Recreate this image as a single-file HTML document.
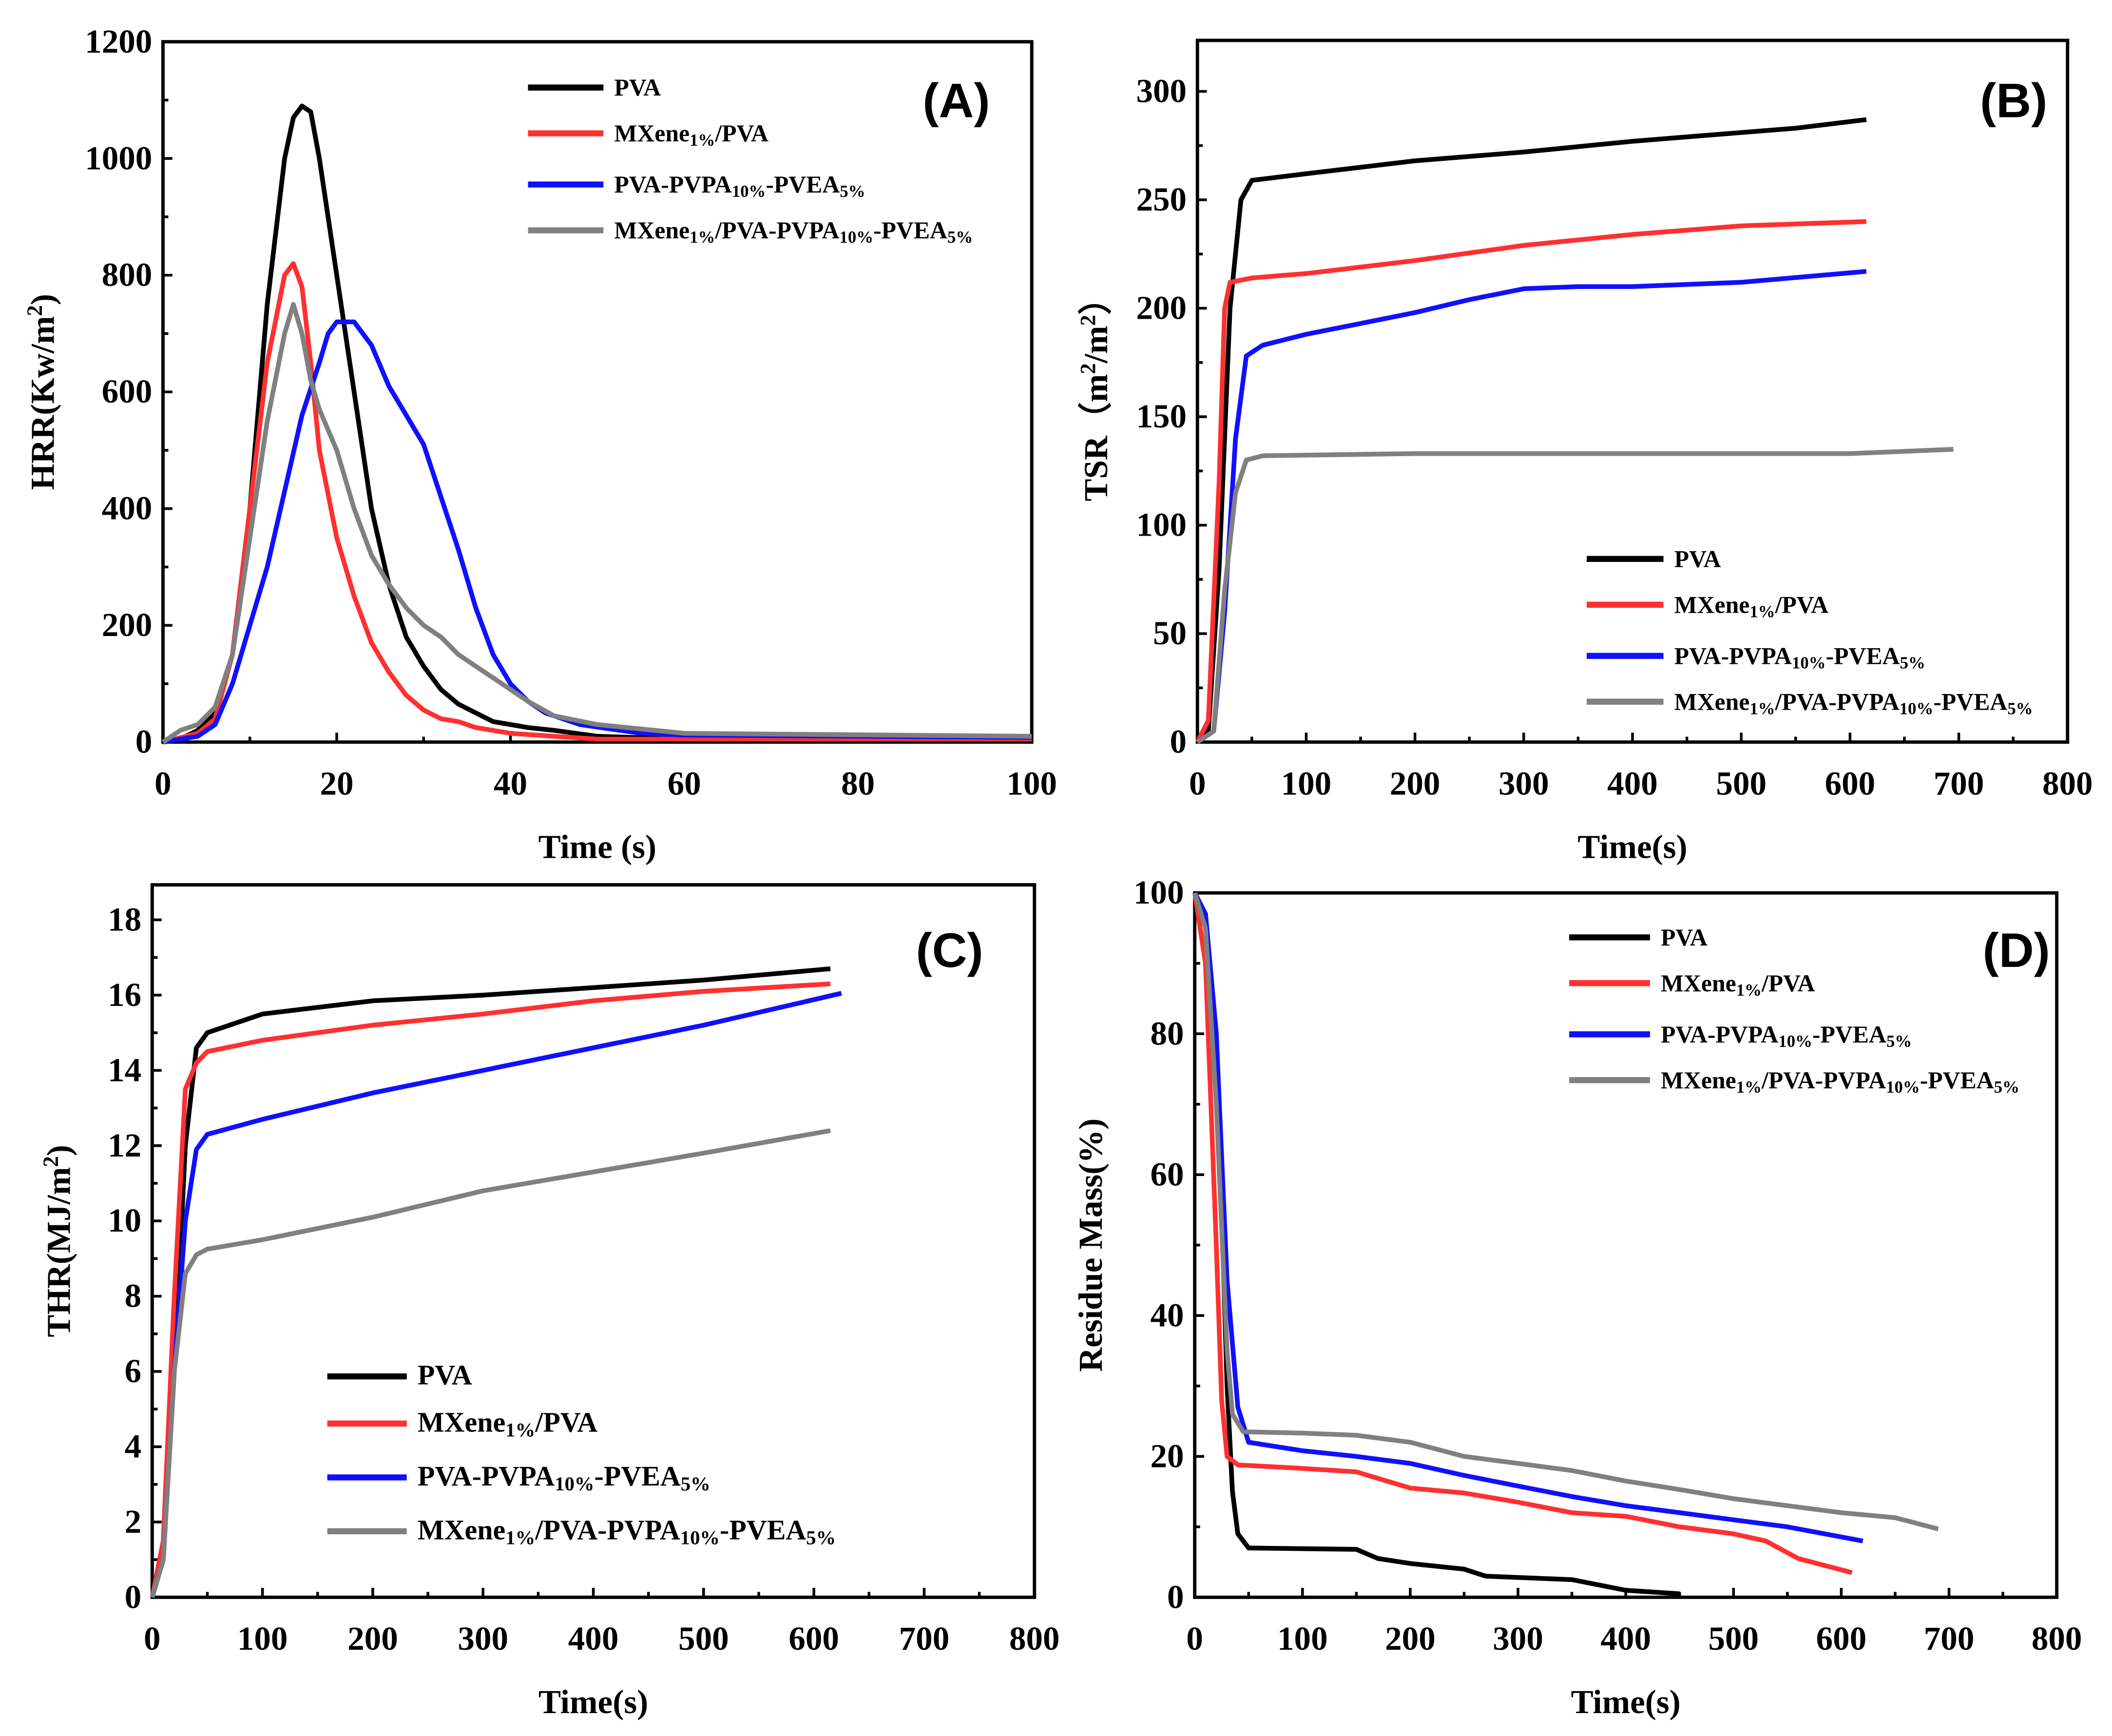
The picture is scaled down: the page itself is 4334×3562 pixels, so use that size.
<!DOCTYPE html>
<html><head><meta charset="utf-8"><style>
html,body{margin:0;padding:0;background:#fff}
svg{display:block}
text{font-family:"Liberation Serif",serif;font-weight:bold;fill:#000}
.pl{font-family:"Liberation Sans",sans-serif;font-size:36px}
</style></head><body>
<svg id="fig" width="4334" height="3562" viewBox="0 0 1568 1289" preserveAspectRatio="none" xmlns="http://www.w3.org/2000/svg"></svg>
<script>
const seriesNames=["PVA","MXene1%/PVA","PVA-PVPA10%-PVEA5%","MXene1%/PVA-PVPA10%-PVEA5%"];
const colors=["#000","#ff3030","#1010ff","#808080"];
// Panel A HRR
const hrrT=[[0,2,4,6,8,10,12,14,15,16,17,18,20,22,24,26,28,30,32,34,36,38,40,42,45,50,60,100],
[0,4,6,8,10,12,14,15,16,17,18,20,22,24,26,28,30,32,34,36,40,45,50,100],
[0,4,6,8,10,12,14,16,18,19,20,22,24,26,28,30,32,34,36,38,40,42,44,48,55,60,100],
[0,2,4,6,8,10,12,14,15,16,17,18,20,22,24,26,28,30,32,34,36,38,40,42,45,50,60,100]];
const hrrV=[[0,5,20,50,150,400,750,1000,1070,1090,1080,1000,800,600,400,270,180,130,90,65,50,35,30,25,20,10,5,5],
[0,15,40,150,400,650,800,820,780,650,500,350,250,170,120,80,55,40,35,25,15,10,5,5],
[0,10,30,100,200,300,430,560,650,700,720,720,680,610,560,510,420,330,230,150,100,70,50,30,15,12,8],
[0,20,30,60,150,350,550,700,750,700,620,570,500,400,320,270,230,200,180,150,130,110,90,70,45,30,15,10]];
// Panel B TSR
const tsrT=[[0,10,20,30,40,50,100,200,300,400,500,550,615],[0,10,20,25,30,50,100,200,300,400,500,615],
[0,15,25,35,45,60,100,150,200,250,300,350,400,500,615],[0,15,25,35,45,60,200,400,600,695]];
const tsrV=[[0,5,80,200,250,259,262,268,272,277,281,283,287],[0,10,120,200,212,214,216,222,229,234,238,240],
[0,5,60,140,178,183,188,193,198,204,209,210,210,212,217],[0,5,70,115,130,132,133,133,133,135]];
// Panel C THR
const thrT=[[0,10,20,30,40,50,100,200,300,400,500,615],[0,10,20,30,40,50,100,200,300,400,500,615],
[0,10,20,30,40,50,100,200,300,400,500,625],[0,10,20,30,40,50,100,200,300,400,500,615]];
const thrV=[[0,1,6,12,14.6,15,15.5,15.85,16,16.2,16.4,16.7],[0,1.5,8,13.5,14.2,14.5,14.8,15.2,15.5,15.85,16.1,16.3],
[0,1,6,10,11.9,12.3,12.7,13.4,14,14.6,15.2,16.05],[0,1,6,8.6,9.1,9.25,9.5,10.1,10.8,11.3,11.8,12.4]];
// Panel D residue
const resT=[[0,10,20,25,30,35,40,50,100,150,170,200,250,270,350,400,450],
[0,10,20,25,30,40,100,150,200,250,300,350,400,450,500,530,560,610],
[0,10,20,30,40,50,100,150,200,250,300,350,400,450,500,550,620],
[0,10,20,30,35,45,100,150,200,250,300,350,400,450,500,550,600,650,690]];
const resV=[[100,97,80,55,30,15,9,7,6.9,6.8,5.5,4.8,4,3,2.5,1,0.5],
[100,90,50,28,20,18.8,18.3,17.8,15.5,14.8,13.5,12,11.5,10,9,8,5.5,3.5],
[100,97,80,45,27,22,20.8,20,19,17.3,15.8,14.3,13,12,11,10,8],
[100,95,70,35,26,23.5,23.3,23,22,20,19,18,16.5,15.3,14,13,12,11.3,9.7]];
const ticksA_x=[0,20,40,60,80,100],ticksA_y=[0,200,400,600,800,1000,1200];
const ticksB_x=[0,100,200,300,400,500,600,700,800],ticksB_y=[0,50,100,150,200,250,300];
const ticksC_y=[0,2,4,6,8,10,12,14,16,18];
const ticksD_y=[0,20,40,60,80,100];

const svg=document.getElementById('fig');const NS="http://www.w3.org/2000/svg";
function mk(tag,at,parent){const e=document.createElementNS(NS,tag);for(const k in at)e.setAttribute(k,at[k]);(parent||svg).appendChild(e);return e;}
function legendLabel(t,name){
  const m=name.split(/(\d+%)/);
  m.forEach((s,i)=>{if(!s)return;const ts=document.createElementNS(NS,'tspan');ts.textContent=s;
    if(i%2===1){ts.setAttribute('font-size','0.7em');ts.setAttribute('baseline-shift','-25%');}
    t.appendChild(ts);});
}
function panel(P){
  const g=mk('g',{});
  const sx=v=>P.x0+(v-P.xmin)/(P.xmax-P.xmin)*(P.x1-P.x0);
  const sy=v=>P.y0-(v-P.ymin)/(P.ymax-P.ymin)*(P.y0-P.y1);
  const fr=mk('rect',{x:P.x0,y:P.y1,width:P.x1-P.x0,height:P.y0-P.y1,fill:'none',stroke:'#000','stroke-width':2.5},g);
  
  P.xt.forEach((v,i)=>{const x=sx(v);mk('line',{x1:x,x2:x,y1:P.y0,y2:P.y0-7,stroke:'#000','stroke-width':2},g);
    if(i<P.xt.length-1){const xm=sx(v+(P.xt[1]-P.xt[0])/2);mk('line',{x1:xm,x2:xm,y1:P.y0,y2:P.y0-4,stroke:'#000','stroke-width':2},g);}
    const t=mk('text',{x:x,y:P.y0+39,'text-anchor':'middle','font-size':25},g);t.textContent=v;
    });
  P.yt.forEach((v,i)=>{const y=sy(v);mk('line',{x1:P.x0,x2:P.x0+7,y1:y,y2:y,stroke:'#000','stroke-width':2},g);
    if(i<P.yt.length-1){const ym=sy(v+(P.yt[1]-P.yt[0])/2);mk('line',{x1:P.x0,x2:P.x0+4,y1:ym,y2:ym,stroke:'#000','stroke-width':2},g);}
    const t=mk('text',{x:P.x0-8,y:y+8,'text-anchor':'end','font-size':25},g);t.textContent=v;
    });
  P.T.forEach((ts,k)=>{const d=ts.map((t,i)=>(i?'L':'M')+sx(t).toFixed(1)+','+sy(P.V[k][i]).toFixed(1)).join('');
    const p=mk('path',{d:d,fill:'none',stroke:colors[k],'stroke-width':3.5,'stroke-linejoin':'round'},g);
    });
  const xl=mk('text',{x:(P.x0+P.x1)/2,y:P.y0+86,'text-anchor':'middle','font-size':25},g);xl.textContent=P.xl;
  
  const yc=(P.y0+P.y1)/2;const yl=mk('text',{x:P.ylx,y:yc,'text-anchor':'middle','font-size':25,transform:`rotate(-90 ${P.ylx} ${yc})`},g);
  yl.innerHTML=P.yl;
  
  const pl=mk('text',{x:P.plx,y:P.ply,'text-anchor':'middle',class:'pl'},g);pl.textContent='('+P.id+')';
  
  P.ly.forEach((y,k)=>{const lg=mk('g',{},g);
    mk('line',{x1:P.lx,x2:P.lx+P.lw,y1:y,y2:y,stroke:colors[k],'stroke-width':4.5},lg);
    const t=mk('text',{x:P.lx+P.lw+8,y:y+6,'font-size':P.lf},lg);legendLabel(t,seriesNames[k]);});
}
panel({id:'A',x0:121,x1:766,y0:551,y1:31,xmin:0,xmax:100,ymin:0,ymax:1200,xt:ticksA_x,yt:ticksA_y,T:hrrT,V:hrrV,
 xl:'Time (s)',yl:'HRR(Kw/m<tspan baseline-shift="super" font-size="0.65em">2</tspan>)',ylx:40,plx:710,ply:87,lx:392,lw:56,lf:18,ly:[65,99,137,171]});
panel({id:'B',x0:889,x1:1535,y0:551,y1:30,xmin:0,xmax:800,ymin:0,ymax:323.5,xt:ticksB_x,yt:ticksB_y,T:tsrT,V:tsrV,
 xl:'Time(s)',yl:'TSR（m<tspan baseline-shift="super" font-size="0.65em">2</tspan>/m<tspan baseline-shift="super" font-size="0.65em">2</tspan>）',ylx:822,plx:1495,ply:87,lx:1178,lw:57,lf:18,ly:[415,449,487,521]});
panel({id:'C',x0:113,x1:768,y0:1186,y1:657,xmin:0,xmax:800,ymin:0,ymax:18.93,xt:ticksB_x,yt:ticksC_y,T:thrT,V:thrV,
 xl:'Time(s)',yl:'THR(MJ/m<tspan baseline-shift="super" font-size="0.65em">2</tspan>)',ylx:52,plx:705,ply:718,lx:243,lw:59,lf:21,ly:[1022,1057,1097,1137]});
panel({id:'D',x0:887,x1:1527,y0:1186,y1:663,xmin:0,xmax:800,ymin:0,ymax:100,xt:ticksB_x,yt:ticksD_y,T:resT,V:resV,
 xl:'Time(s)',yl:'Residue Mass(%)',ylx:818,plx:1497,ply:718,lx:1165,lw:60,lf:18,ly:[696,730,768,802]});
</script>
</body></html>
